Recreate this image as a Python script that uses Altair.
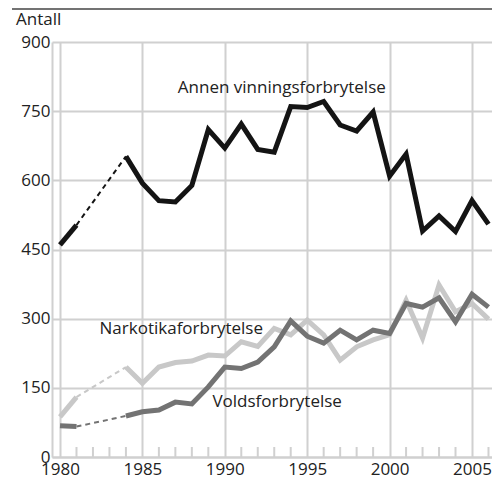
import altair as alt
import pandas as pd

# ---- data ----
years = [1980, 1981, 1984, 1985, 1986, 1987, 1988, 1989, 1990, 1991, 1992, 1993,
         1994, 1995, 1996, 1997, 1998, 1999, 2000, 2001, 2002, 2003, 2004, 2005, 2006]
annen = [460, 503, 652, 594, 556, 553, 589, 710, 670, 722, 667, 661,
         760, 758, 771, 720, 707, 748, 609, 657, 490, 523, 489, 556, 505]
narkotika = [87, 130, 195, 160, 195, 205, 208, 221, 219, 250, 240, 279,
             265, 297, 265, 210, 239, 254, 265, 340, 258, 373, 315, 333, 299]
volds = [68, 66, 89, 98, 102, 119, 115, 152, 195, 192, 206, 239,
         295, 262, 247, 275, 254, 275, 268, 333, 325, 345, 293, 353, 325]

series_names = ["Narkotikaforbrytelse", "Voldsforbrytelse", "Annen vinningsforbrytelse"]
series_colors = ["#c8c8c8", "#737373", "#141414"]

label_text = ["Annen vinningsforbrytelse", "Narkotikaforbrytelse", "Voldsforbrytelse"]
label_year = [1987.15, 1982.4, 1989.25]
label_value = [800, 278, 119]

major_years = [1980, 1985, 1990, 1995, 2000, 2005]
minor_years = [y for y in range(1981, 2007) if y % 5 != 0]
y_ticks = [0, 150, 300, 450, 600, 750, 900]

# ---- build tables ----
rows = []
for name, vals in zip(series_names, [narkotika, volds, annen]):
    for yr, v in zip(years, vals):
        seg = "a" if yr <= 1981 else "b"
        rows.append({"year": yr, "value": v, "series": name, "seg": name + seg})
df = pd.DataFrame(rows)
df_dash = df[df["year"].isin([1981, 1984])]
df_lab = pd.DataFrame({"text": label_text, "year": label_year, "value": label_value})
df_minor = pd.DataFrame({"year": minor_years})

FONT = "Open Sans"
GRID = "#d0d0d0"
TEXT = "#222222"

W, H = 440, 415
PX_PER_YEAR = 16.48
x0 = 1980 - 8 / PX_PER_YEAR
xscale = alt.Scale(domain=[x0, x0 + W / PX_PER_YEAR], nice=False, zero=False)
yscale = alt.Scale(domain=[0, 900], nice=False)
cscale = alt.Scale(domain=series_names, range=series_colors)

solid = alt.Chart(df).mark_line(strokeWidth=5, strokeJoin="miter", strokeCap="butt").encode(
    x=alt.X("year:Q", scale=xscale,
            axis=alt.Axis(values=major_years, format="d", title=None, grid=True,
                          gridColor=GRID, gridWidth=2, domainColor=GRID, domainWidth=2,
                          ticks=False, labelPadding=4, labelFlush=False)),
    y=alt.Y("value:Q", scale=yscale,
            axis=alt.Axis(values=y_ticks, title=None, grid=True, gridColor=GRID,
                          gridWidth=2, domainColor=GRID, domainWidth=2, ticks=False,
                          labelPadding=2, labelFlush=False)),
    color=alt.Color("series:N", scale=cscale, legend=None),
    detail="seg:N",
    order="year:Q",
)

dashed = alt.Chart(df_dash).mark_line(strokeWidth=2, strokeDash=[5, 4]).encode(
    x=alt.X("year:Q", scale=xscale),
    y=alt.Y("value:Q", scale=yscale),
    color=alt.Color("series:N", scale=cscale, legend=None),
    detail="series:N",
)

minor = alt.Chart(df_minor).mark_rule(color=GRID, strokeWidth=2).encode(
    x=alt.X("year:Q", scale=xscale),
    y=alt.value(H),
    y2=alt.value(H - 10),
)

labels = alt.Chart(df_lab).mark_text(align="left", baseline="middle", font=FONT,
                                     fontSize=17, color=TEXT).encode(
    x=alt.X("year:Q", scale=xscale),
    y=alt.Y("value:Q", scale=yscale),
    text="text:N",
)

antall = alt.Chart(pd.DataFrame({"t": ["Antall"]})).mark_text(
    align="left", baseline="middle", font=FONT, fontSize=17, color=TEXT
).encode(x=alt.value(-36), y=alt.value(-22), text="t:N")

topline = alt.Chart(pd.DataFrame({"t": [0]})).mark_rule(color="#444444", strokeWidth=1.5).encode(
    x=alt.value(-40), x2=alt.value(W), y=alt.value(-33)
)

chart = alt.layer(minor, dashed, solid, labels, antall, topline).properties(
    width=W, height=H,
    padding={"left": 44, "top": 34, "right": 0, "bottom": 22},
    autosize=alt.AutoSizeParams(type="none"),
).configure_view(stroke=None).configure_axis(
    labelFont=FONT, labelFontSize=17, labelColor=TEXT
)

chart.save("out.html", embed_options={"renderer": "svg", "actions": False})
